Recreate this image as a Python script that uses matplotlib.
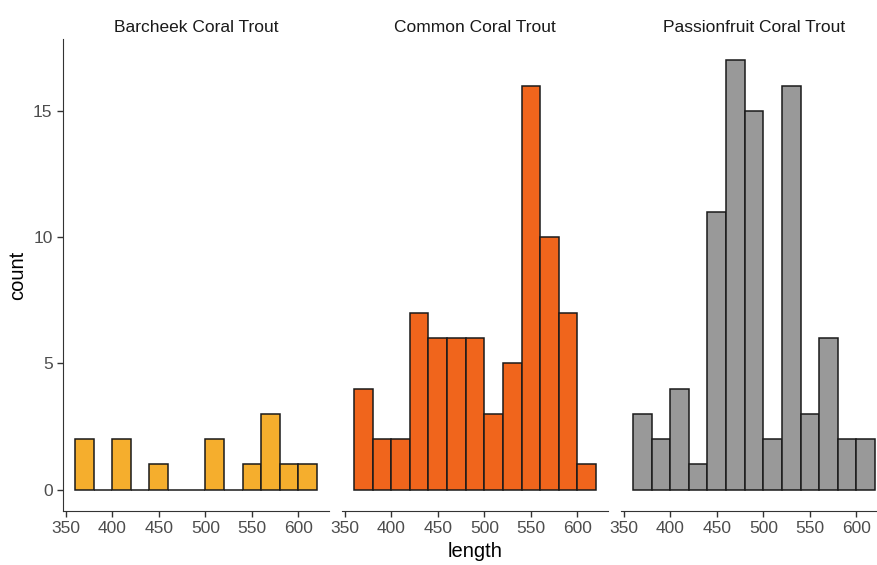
import matplotlib.pyplot as plt

# bins of width 20 from 360 to 620
bin_starts = [360, 380, 400, 420, 440, 460, 480, 500, 520, 540, 560, 580, 600]
species = ['Barcheek Coral Trout', 'Common Coral Trout', 'Passionfruit Coral Trout']
barcheek = [2, 0, 2, 0, 1, 0, 0, 2, 0, 1, 3, 1, 1]
common = [4, 2, 2, 7, 6, 6, 6, 3, 5, 16, 10, 7, 1]
passionfruit = [3, 2, 4, 1, 11, 17, 15, 2, 16, 3, 6, 2, 2]
colours = ['#F5AE2D', '#F0651C', '#999999']
x_ticks = [350, 400, 450, 500, 550, 600]
y_ticks = [0, 5, 10, 15]

plt.rcParams['font.family'] = ['Liberation Sans', 'DejaVu Sans']

W, H = 878, 565
fig = plt.figure(figsize=(W / 100, H / 100), dpi=100)

lefts = [63, 342, 621]
pw = 266
top, bottom = 39, 511

for i, (name, counts) in enumerate(zip(species, [barcheek, common, passionfruit])):
    ax = fig.add_axes([lefts[i] / W, 1 - bottom / H, pw / W, (bottom - top) / H])
    ax.bar(bin_starts, counts, width=20, align='edge', color=colours[i],
           edgecolor='#1a1a1a', linewidth=1.1)
    ax.set_xlim(347, 633)
    ax.set_ylim(-0.85, 17.85)
    ax.set_xticks(x_ticks)
    ax.set_yticks(y_ticks)
    ax.tick_params(axis='both', colors='#333333', labelcolor='#4D4D4D',
                   labelsize=12.5, length=4, width=1)
    for s in ['top', 'right']:
        ax.spines[s].set_visible(False)
    ax.spines['bottom'].set_color('#333333')
    ax.spines['left'].set_color('#333333')
    if i > 0:
        ax.spines['left'].set_visible(False)
        ax.tick_params(axis='y', left=False, labelleft=False)
    else:
        ax.set_ylabel('count', fontsize=14.5, color='black', labelpad=4)
    if i == 1:
        ax.set_xlabel('length', fontsize=14.5, color='black', labelpad=4)
    ax.set_title(name, fontsize=12.5, color='#1a1a1a', pad=5)

fig.savefig('out.png', dpi=100)
